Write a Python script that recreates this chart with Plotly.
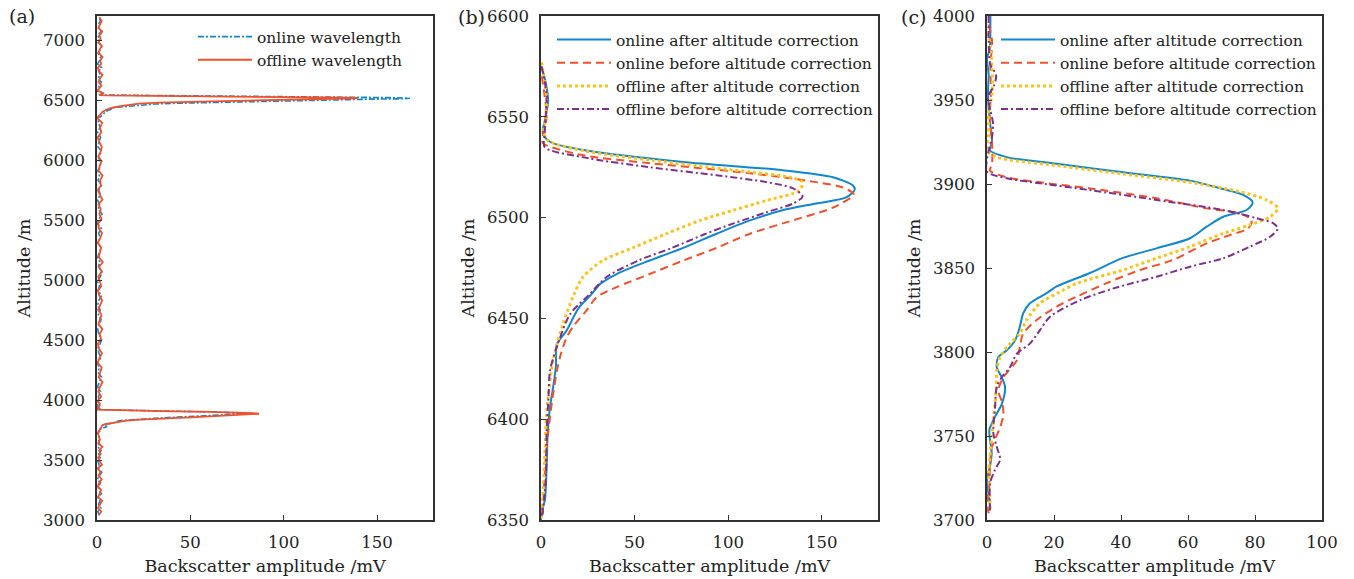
import plotly.graph_objects as go

# ---------------- data ----------------
# Panel (b): 6350-6600 m layer
b_on_after_alt = [6575, 6567, 6558, 6550, 6542, 6537.5, 6533, 6527.6, 6523.5, 6520, 6516, 6514, 6510, 6507,
                  6503.6, 6498.6, 6492, 6485, 6478.7, 6472, 6467, 6462, 6455, 6444, 6437, 6426.5, 6416, 6406,
                  6394, 6376, 6359.5, 6354.5, 6350]
b_on_after_val = [0.3, 2.5, 3.8, 2.5, 1, 5, 26, 76, 129, 156, 166.5, 167.6, 163, 147,
                  129, 111.6, 93.8, 76, 58, 40.4, 31.5, 27, 20, 13.7, 8.4, 8, 6.5, 4.8,
                  3.6, 3, 2, 0.3, 0]
b_on_before_alt = [6570, 6560, 6550, 6540, 6537, 6531, 6527, 6522, 6517.6, 6515, 6511.5, 6505, 6499.6, 6492,
                   6485, 6478.7, 6472, 6465.5, 6460.5, 6454, 6447, 6440.6, 6432, 6424, 6407.5, 6386, 6366, 6351]
b_on_before_val = [0.5, 2, 3, 1, 1, 22, 58, 111.6, 147, 161, 167, 156, 138, 111.6,
                   93.8, 76, 58, 40.4, 29.7, 24.4, 18, 13.7, 10.5, 8.5, 5.7, 3, 1.6, 0.9]
b_off_after_alt = [6577, 6567, 6558, 6550, 6542, 6538, 6533, 6527, 6522.6, 6520, 6517.6, 6513.5, 6508.5, 6503.6,
                   6498.6, 6492, 6485, 6478.7, 6470.5, 6460.5, 6447.4, 6429, 6402.6, 6386, 6361, 6353, 6350]
b_off_after_val = [0.3, 2, 3, 2.5, 1.5, 4, 24, 72, 111.6, 133, 139.7, 138, 120.5, 102.5,
                   85, 67, 49, 33, 22.4, 17, 11.8, 6.4, 3, 2.2, 1, 0.2, 0]
b_off_before_alt = [6575, 6561, 6550, 6542, 6535, 6530, 6525, 6521, 6517.6, 6514.5, 6510.5, 6507, 6502.7, 6497,
                    6492, 6485, 6478.7, 6470.5, 6462, 6452, 6435.6, 6424, 6411, 6394, 6373, 6363, 6351]
b_off_before_val = [0.3, 3, 2.5, 2, 2, 22, 58, 93.8, 120.5, 134.7, 139.7, 134.7, 120.5, 102.5,
                    88, 70, 52, 35, 26, 15.5, 8.4, 4.8, 4, 3, 2.7, 2, 0.4]

# Panel (c): 3700-4000 m layer
c_on_after_alt = [4000, 3990, 3980, 3975, 3965, 3955, 3945, 3935, 3925, 3920, 3916, 3912, 3907, 3902, 3897,
                  3893.5, 3889, 3884.5, 3880.5, 3874.6, 3867.7, 3861.7, 3856, 3847, 3839, 3835, 3829, 3823,
                  3815, 3807, 3801, 3797, 3791, 3785, 3779, 3769, 3761.5, 3753.6, 3747.6, 3740, 3732, 3724,
                  3715, 3707]
c_on_after_val = [1, 1, 0.8, 0, 0.5, 0.3, 0.5, 1, 1.5, 0.9, 5.9, 20.8, 40.6, 60.6, 70.5,
                  76.5, 79.3, 77.5, 70.5, 65.6, 60.6, 50.6, 40.6, 30.7, 20.8, 17.8, 12.8, 10.8,
                  9.8, 8.4, 5.9, 3.4, 2.9, 4.4, 5.4, 4.4, 2.4, 0.7, 0.9, 1.4, 0.9, 0,
                  0.5, 1]
c_on_before_alt = [3995, 3985, 3970, 3955, 3940, 3925, 3912, 3908, 3904, 3901, 3897.4, 3891.5, 3885.5, 3882.5,
                   3878.6, 3873.6, 3869.6, 3864.7, 3854.8, 3848.8, 3841, 3833, 3827, 3819, 3811, 3803, 3795,
                   3785, 3777, 3770, 3763, 3755, 3743, 3732, 3720, 3711, 3704]
c_on_before_val = [0.5, 1.5, 1, 1.2, 0.8, 1.5, 1.5, 0.9, 5.9, 15.8, 30.7, 50.6, 65.6, 75.5,
                   79, 78, 72.5, 65.6, 55.5, 45.7, 35.7, 26.8, 20.8, 14.8, 10.8, 9.8, 8.9,
                   4.9, 3.4, 4.5, 4.9, 3.9, 1.4, 0.9, 0.7, 0, 0.5]
c_off_after_alt = [3990, 3982, 3970, 3954, 3942, 3930, 3920, 3916, 3911, 3906, 3901, 3895.4, 3890.5, 3885.5,
                   3880.5, 3875.6, 3870.6, 3862.7, 3855.8, 3848.8, 3841, 3835, 3829, 3819, 3811, 3805, 3797,
                   3789, 3779, 3763, 3749.6, 3738, 3728, 3716.6, 3704.8]
c_off_after_val = [0.3, 1, 1.5, 1.5, 0.5, 0.5, 0, 2.9, 20.8, 40.6, 60.6, 75.5, 83.5, 86.8,
                   84.5, 78.5, 70.5, 60.6, 50.6, 40.6, 27, 21, 15.8, 11.8, 9.8, 6.9, 3.9,
                   2.9, 2.8, 2.1, 1.4, 0.9, 0.5, 0.8, 0.9]
c_off_before_alt = [4000, 3985, 3971, 3965, 3958, 3952, 3944, 3936, 3928, 3920, 3907.4, 3903.4, 3900.4, 3896.4,
                    3890.5, 3884.5, 3879.6, 3876.6, 3873.6, 3868.6, 3862.7, 3855.8, 3850.8, 3844.8, 3838, 3831,
                    3821, 3813, 3805, 3799, 3791, 3785, 3779, 3767, 3751.6, 3743.7, 3736, 3730, 3722, 3714, 3704]
c_off_before_val = [0.5, 0.5, 1, 2.7, 2, 0.3, 1, 1.8, 1.5, 0.5, 0, 5.9, 15.8, 30.7,
                    50.6, 70.5, 80.5, 85.5, 86.8, 84.5, 78.5, 70.5, 60.6, 50.6, 38, 28,
                    18.8, 15.8, 12.8, 8.9, 6.9, 4.4, 2.9, 2.4, 1.9, 2.9, 3.9, 2.4, 0.9, 0.8, 0.9]

low_alt = list(range(3040, 3700, 30))
mid_alt = list(range(4030, 6350, 40))
high_alt = list(range(6620, 7201, 30))
online_low = [1.2, 0.4, 2.1, 0.8, 1.6, 0.3, 2.4, 1.0, 0.6, 1.9, 0.2, 1.4, 2.6, 0.7, 1.1, 0.5, 1.8, 0.9,
              2.2, 0.4, 1.3, 0.8]
offline_low = [0.9, 2.3, 0.5, 1.7, 2.8, 0.6, 1.5, 2.2, 0.4, 1.2, 2.5, 0.8, 1.9, 0.3, 2.7, 1.4, 0.6, 2.0,
               1.1, 2.9, 0.7, 1.6]
online_mid = [0.8, 1.9, 0.3, 1.5, 2.4, 0.6, 1.2, 0.2, 2.0, 1.1, 0.5, 1.7, 2.6, 0.9, 0.4, 1.4, 2.2, 0.7,
              1.8, 0.3, 1.0, 2.5, 0.6, 1.3, 0.2, 1.9, 2.8, 0.8, 1.5, 0.4, 1.1, 2.1, 0.5, 1.6, 0.9, 2.3,
              0.3, 1.2, 2.7, 0.7, 1.4, 0.2, 1.8, 1.0, 2.4, 0.6, 1.3, 0.4, 2.0, 1.5, 0.8, 2.6, 0.5, 1.1,
              1.9, 0.3, 1.6, 0.9]
offline_mid = [2.2, 0.7, 1.6, 3.0, 0.9, 1.8, 2.5, 0.4, 1.3, 2.7, 1.0, 0.5, 2.1, 1.4, 2.9, 0.8, 1.7, 2.4,
               0.6, 1.9, 2.8, 1.2, 0.5, 2.3, 1.5, 0.7, 2.6, 1.1, 3.1, 0.9, 1.6, 2.2, 0.4, 1.8, 2.7, 1.0,
               0.6, 2.4, 1.3, 2.0, 0.8, 2.9, 1.5, 0.5, 2.1, 1.7, 3.0, 0.9, 1.4, 2.5, 0.7, 1.9, 2.6, 1.2,
               0.4, 2.3, 1.6, 2.8]
online_high = [1.1, 2.3, 0.5, 1.7, 0.9, 2.5, 0.3, 1.4, 2.0, 0.6, 1.8, 2.7, 0.8, 1.2, 0.4, 2.2, 1.5, 0.7,
               1.9, 1.0]
offline_high = [2.4, 0.8, 1.6, 2.9, 1.1, 0.5, 2.2, 1.7, 3.0, 0.9, 1.4, 2.6, 0.6, 2.0, 1.3, 2.8, 0.7, 1.8,
                2.5, 1.2]

a_on_alt = low_alt + c_on_after_alt[::-1] + mid_alt + b_on_after_alt[::-1] + high_alt
a_on_val = online_low + c_on_after_val[::-1] + online_mid + b_on_after_val[::-1] + online_high
a_off_alt = low_alt + c_off_after_alt[::-1] + mid_alt + b_off_after_alt[::-1] + high_alt
a_off_val = offline_low + c_off_after_val[::-1] + offline_mid + b_off_after_val[::-1] + offline_high

names_a = ["online wavelength", "offline wavelength"]
names_bc = ["online after altitude correction", "online before altitude correction",
            "offline after altitude correction", "offline before altitude correction"]

# ---------------- styling ----------------
W, H = 1354, 579
FONT = "DejaVu Serif"
BLUE = "#1086cf"
RED = "#f1502a"
YEL = "#fcc214"
PUR = "#7e2f8e"
AX = "#333333"

fig = go.Figure()


def add(x, y, xa, ya, name, color, dash, width, legend, shape="spline"):
    fig.add_trace(go.Scatter(
        x=x, y=y, xaxis=xa, yaxis=ya, mode="lines", name=name,
        line=dict(color=color, dash=dash, width=width, shape=shape, smoothing=0.8 if shape == "spline" else None),
        legend=legend, legendgroup=legend + name, hoverinfo="skip"))


add(a_on_val, a_on_alt, "x", "y", names_a[0], BLUE, "6px,2px,2px,2px", 1.6, "legend", "linear")
add(a_off_val, a_off_alt, "x", "y", names_a[1], RED, "solid", 1.8, "legend", "linear")

add(b_on_after_val, b_on_after_alt, "x2", "y2", names_bc[0], BLUE, "solid", 2, "legend2")
add(b_on_before_val, b_on_before_alt, "x2", "y2", names_bc[1], RED, "8px,5px", 2, "legend2")
add(b_off_after_val, b_off_after_alt, "x2", "y2", names_bc[2], YEL, "3px,3px", 3, "legend2")
add(b_off_before_val, b_off_before_alt, "x2", "y2", names_bc[3], PUR, "7px,3px,2px,3px", 2, "legend2")

add(c_on_after_val, c_on_after_alt, "x3", "y3", names_bc[0], BLUE, "solid", 2, "legend3")
add(c_on_before_val, c_on_before_alt, "x3", "y3", names_bc[1], RED, "8px,5px", 2, "legend3")
add(c_off_after_val, c_off_after_alt, "x3", "y3", names_bc[2], YEL, "3px,3px", 3, "legend3")
add(c_off_before_val, c_off_before_alt, "x3", "y3", names_bc[3], PUR, "7px,3px,2px,3px", 2, "legend3")


def px_x(p):
    return p / W


def px_y(p):
    return 1 - p / H


ydom = [px_y(520), px_y(16)]
xdoms = [[px_x(97), px_x(433)], [px_x(541), px_x(878)], [px_x(987), px_x(1322)]]
xranges = [[0, 180], [0, 180], [0, 100]]
xticks = [[0, 50, 100, 150], [0, 50, 100, 150], [0, 20, 40, 60, 80, 100]]
yranges = [[3000, 7200], [6350, 6600], [3700, 4000]]
ydticks = [500, 50, 50]

common = dict(showline=True, linecolor=AX, linewidth=1.5, mirror=True, ticks="inside", ticklen=5,
              tickwidth=1.3, tickcolor=AX, showgrid=False, zeroline=False,
              tickfont=dict(family=FONT, size=16.5, color="#222"))
title_font = dict(family=FONT, size=17.5, color="#222")

lay = {}
for i in range(3):
    sfx = "" if i == 0 else str(i + 1)
    lay["xaxis" + sfx] = dict(common, domain=xdoms[i], range=xranges[i], tickvals=xticks[i],
                              anchor="y" + sfx, ticklabelstandoff=6,
                              title=dict(text="Backscatter amplitude /mV", font=title_font, standoff=9))
    lay["yaxis" + sfx] = dict(common, domain=ydom, range=yranges[i], dtick=ydticks[i],
                              anchor="x" + sfx, ticklabelstandoff=7,
                              title=dict(text="Altitude /m", font=title_font, standoff=8))

legfont = dict(family=FONT, size=15.5, color="#222")
leg_common = dict(bgcolor="rgba(0,0,0,0)", borderwidth=0, font=legfont, itemwidth=54,
                  tracegroupgap=0, xanchor="left", yanchor="top", orientation="v")
lay["legend"] = dict(leg_common, x=px_x(193), y=px_y(20))
lay["legend2"] = dict(leg_common, x=px_x(552), y=px_y(23))
lay["legend3"] = dict(leg_common, x=px_x(996), y=px_y(23))

ann = []
for txt, xp, yp in [("(a)", 22, 16), ("(b)", 471, 17), ("(c)", 913, 17)]:
    ann.append(dict(text=txt, x=px_x(xp), y=px_y(yp), xref="paper", yref="paper", showarrow=False,
                    xanchor="center", yanchor="middle", font=dict(family=FONT, size=19, color="#222")))

fig.update_layout(**lay)
fig.update_layout(width=W, height=H, margin=dict(l=0, r=0, t=0, b=0, autoexpand=False),
                  paper_bgcolor="white", plot_bgcolor="white", annotations=ann, showlegend=True)

fig.write_html("out.html", config={"displayModeBar": False},
               post_script="document.body.style.margin='0';document.body.style.overflow='hidden';")
